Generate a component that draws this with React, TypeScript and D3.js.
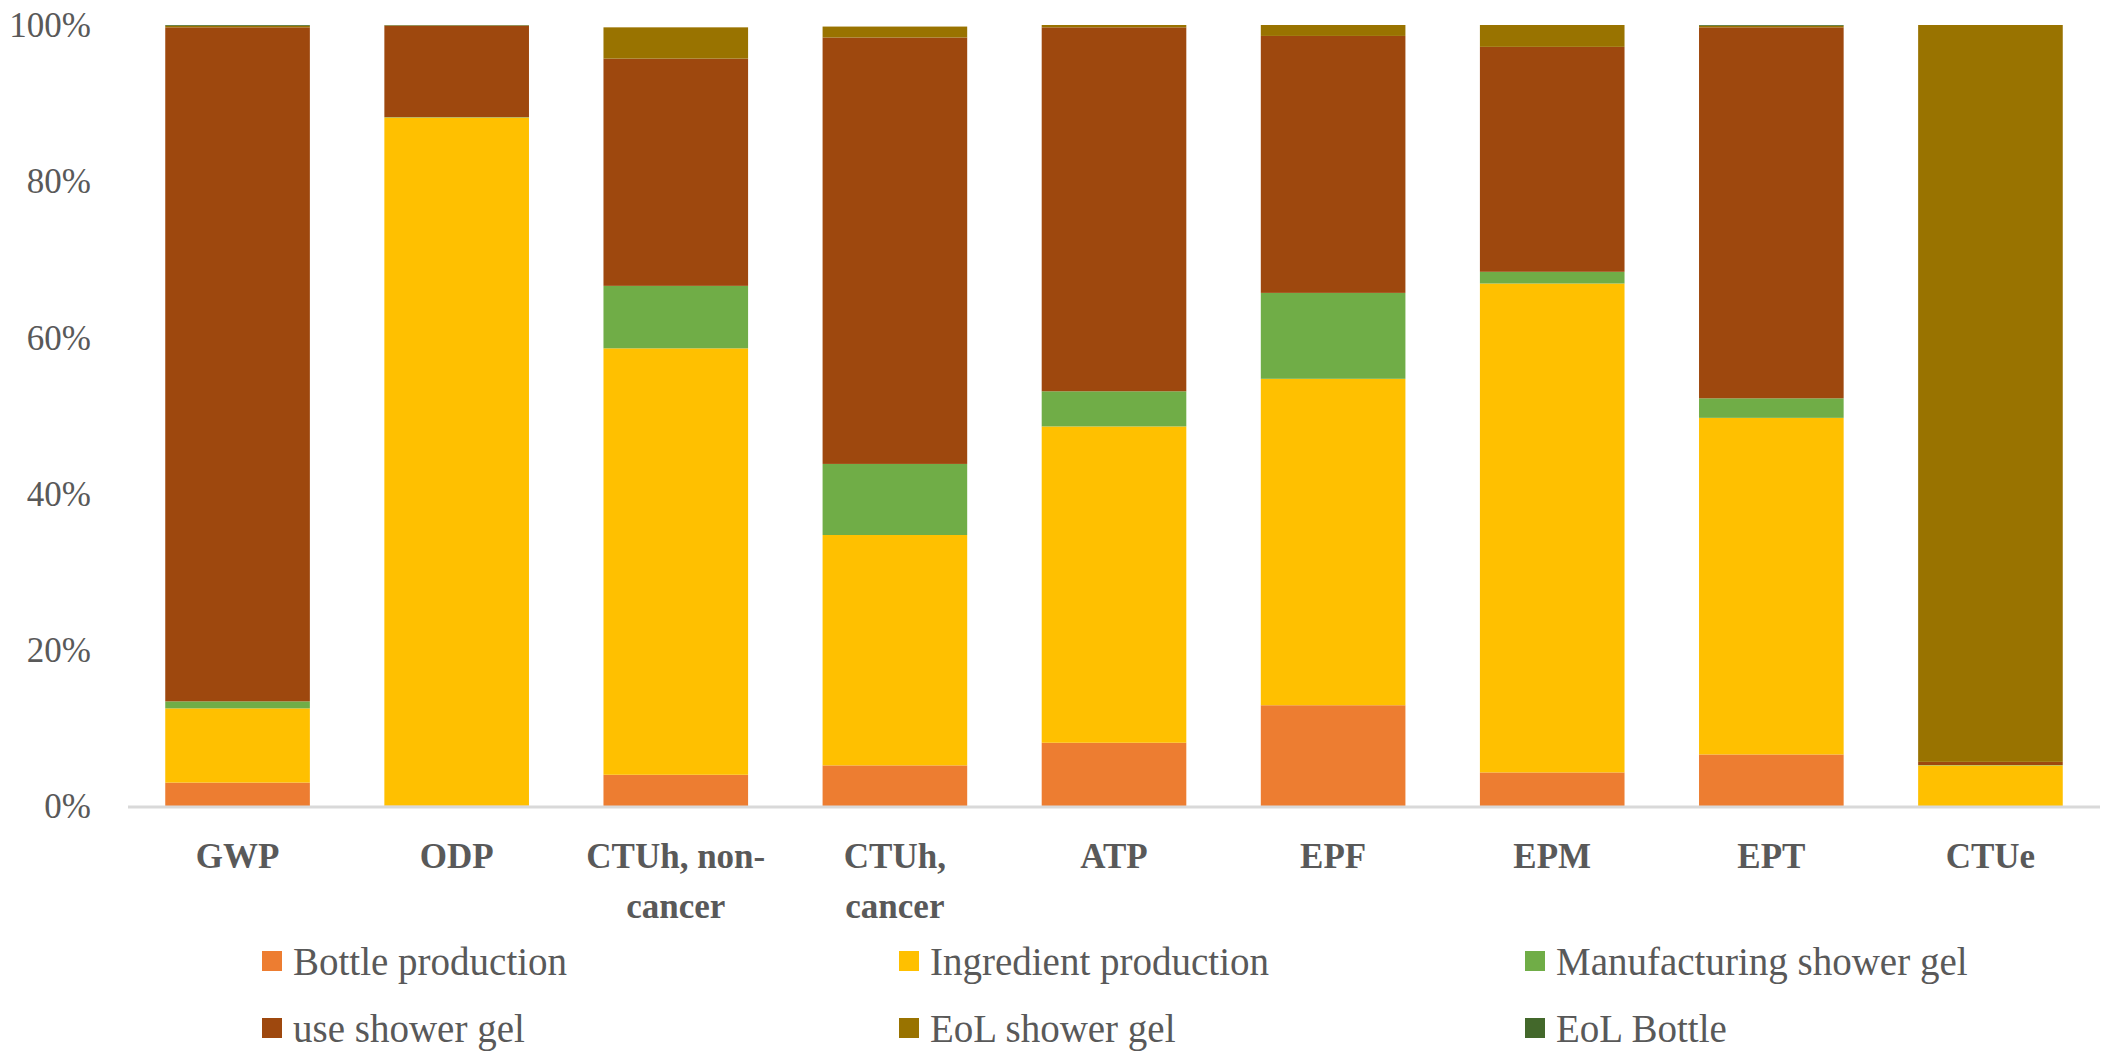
import * as d3 from 'd3';
import React, { useRef, useEffect } from 'react';

// impact categories (x axis), label lines
const categories = ['GWP', 'ODP', 'CTUh, non-cancer', 'CTUh, cancer', 'ATP', 'EPF', 'EPM', 'EPT', 'CTUe'];
const categoryLines = [['GWP'], ['ODP'], ['CTUh, non-', 'cancer'], ['CTUh,', 'cancer'], ['ATP'], ['EPF'], ['EPM'], ['EPT'], ['CTUe']];

// series shares in %, one value per category
const bottleProduction = [3.0, 0.05, 4.0, 5.2, 8.1, 12.9, 4.3, 6.6, 0.0];
const ingredientProduction = [9.5, 88.1, 54.6, 29.5, 40.5, 41.8, 62.6, 43.1, 5.2];
const manufacturing = [0.9, 0.05, 8.0, 9.1, 4.5, 11.0, 1.5, 2.5, 0.05];
const useShowerGel = [86.3, 11.7, 29.1, 54.6, 46.6, 32.9, 28.8, 47.5, 0.4];
const eolShowerGel = [0.2, 0.05, 4.0, 1.4, 0.3, 1.4, 2.8, 0.2, 94.35];
const eolBottle = [0.1, 0.05, 0.0, 0.0, 0.0, 0.0, 0.0, 0.1, 0.0];

const seriesNames = ['Bottle production', 'Ingredient production', 'Manufacturing shower gel', 'use shower gel', 'EoL shower gel', 'EoL Bottle'];
const seriesValues = [bottleProduction, ingredientProduction, manufacturing, useShowerGel, eolShowerGel, eolBottle];
const seriesColors = ['#ED7D31', '#FFC000', '#70AD47', '#9E480E', '#997300', '#43682B'];

const yTicks = [0, 20, 40, 60, 80, 100];

function App() {
  const ref = useRef(null);

  useEffect(() => {
    const width = 2111;
    const height = 1060;
    const margin = { top: 25, right: 11, bottom: 254, left: 128 };
    const font = '"Liberation Serif", "Times New Roman", serif';

    const svg = d3.select(ref.current);
    svg.selectAll('*').remove();

    const rows = categories.map((c, i) => {
      const r: any = { cat: c };
      seriesNames.forEach((s, j) => { r[s] = seriesValues[j][i]; });
      return r;
    });

    const stacked = d3.stack().keys(seriesNames)(rows);

    const x = d3.scaleBand()
      .domain(categories)
      .range([margin.left, width - margin.right])
      .paddingInner(0.34)
      .paddingOuter(0.17);

    const y = d3.scaleLinear()
      .domain([0, 100])
      .range([height - margin.bottom, margin.top]);

    // bars
    svg.append('g')
      .selectAll('g')
      .data(stacked)
      .join('g')
      .attr('fill', (d, i) => seriesColors[i])
      .selectAll('rect')
      .data(d => d)
      .join('rect')
      .attr('x', (d: any) => x(d.data.cat) || 0)
      .attr('width', x.bandwidth())
      .attr('y', d => y(d[1]))
      .attr('height', d => Math.max(0, y(d[0]) - y(d[1])));

    // base line
    svg.append('line')
      .attr('x1', margin.left)
      .attr('x2', width - margin.right)
      .attr('y1', y(0) + 1)
      .attr('y2', y(0) + 1)
      .attr('stroke', '#D9D9D9')
      .attr('stroke-width', 3);

    // y tick labels
    svg.append('g')
      .selectAll('text')
      .data(yTicks)
      .join('text')
      .attr('x', 91)
      .attr('y', d => y(d))
      .attr('dy', '0.35em')
      .attr('text-anchor', 'end')
      .attr('font-family', font)
      .attr('font-size', 35)
      .attr('fill', '#595959')
      .text(d => d + '%');

    // x labels
    const xl = svg.append('g')
      .selectAll('text')
      .data(categories)
      .join('text')
      .attr('x', d => (x(d) || 0) + x.bandwidth() / 2)
      .attr('y', 868)
      .attr('text-anchor', 'middle')
      .attr('font-family', font)
      .attr('font-size', 35)
      .attr('font-weight', 'bold')
      .attr('fill', '#595959');
    xl.selectAll('tspan')
      .data((d, i) => categoryLines[i])
      .join('tspan')
      .attr('x', function () { return (this.parentNode as any).getAttribute('x'); })
      .attr('dy', (d, i) => (i === 0 ? 0 : 50))
      .text(d => d);

    // legend
    const legendX = [262, 899, 1525];
    const legendY = [961, 1028];
    const lg = svg.append('g')
      .selectAll('g')
      .data(seriesNames)
      .join('g')
      .attr('transform', (d, i) => `translate(${legendX[i % 3]},${legendY[Math.floor(i / 3)]})`);
    lg.append('rect')
      .attr('x', 0)
      .attr('y', -10)
      .attr('width', 20)
      .attr('height', 20)
      .attr('fill', (d, i) => seriesColors[i]);
    lg.append('text')
      .attr('x', 31)
      .attr('dy', '0.35em')
      .attr('font-family', font)
      .attr('font-size', 39)
      .attr('fill', '#595959')
      .text(d => d);
  }, []);

  return (
    <svg
      ref={ref}
      width={2111}
      height={1060}
      style={{ position: 'fixed', top: 0, left: 0, background: '#fff' }}
    />
  );
}

export default App;
